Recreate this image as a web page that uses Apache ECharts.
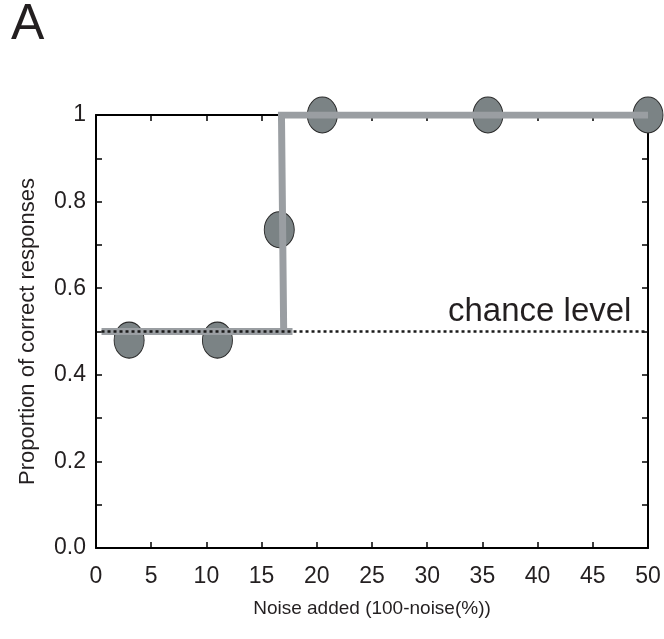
<!DOCTYPE html>
<html>
<head>
<meta charset="utf-8">
<script src="https://cdn.jsdelivr.net/npm/echarts@6/dist/echarts.min.js"></script>
<style>html,body{margin:0;padding:0;background:#fff;}#c{width:664px;height:639px;}</style>
</head>
<body>
<div id="c"></div>
<script>
// Data
var pointX = [3, 11, 16.6, 20.5, 35.5, 50];
var pointY = [0.48, 0.48, 0.735, 1.0, 1.0, 1.0];
var fitX = [0.5, 17.8, 17.0, 16.8, 50];
var fitY = [0.5, 0.5, 0.5, 1.0, 1.0];
var chanceLevel = 0.5;
var chanceRange = [0.5, 50];
var chanceLabelX = 48.5;
var xTicks = [0, 5, 10, 15, 20, 25, 30, 35, 40, 45, 50];
var yTicks = [0, 0.2, 0.4, 0.6, 0.8, 1];

var points = pointX.map(function (x, i) { return [x, pointY[i]]; });
var fit = fitX.map(function (x, i) { return [x, fitY[i]]; });

var txt = '#231f20';
var font = 'Liberation Sans, Arial, sans-serif';
var chart = echarts.init(document.getElementById('c'));
var axisLine = { show: true, onZero: false, lineStyle: { color: '#000', width: 2 } };
var tick = { show: true, inside: true, length: 6, lineStyle: { color: '#000', width: 1.5 } };

chart.setOption({
  animation: false,
  textStyle: { fontFamily: font },
  graphic: [{
    type: 'text', left: 11, top: 0,
    style: { text: 'A', font: '50px ' + font, fill: txt }
  }],
  grid: { left: 96, right: 16, top: 115, bottom: 91 },
  xAxis: [{
    type: 'value', min: 0, max: 50, interval: 5, position: 'bottom',
    axisLine: axisLine, axisTick: tick, splitLine: { show: false },
    axisLabel: { color: txt, fontSize: 23, margin: 17, fontFamily: font },
    name: 'Noise added (100-noise(%))', nameLocation: 'middle', nameGap: 51,
    nameTextStyle: { color: txt, fontSize: 19, fontFamily: font }
  }, {
    type: 'value', min: 0, max: 50, interval: 5, position: 'top',
    axisLine: axisLine, axisTick: tick, splitLine: { show: false },
    axisLabel: { show: false }
  }],
  yAxis: [{
    type: 'value', min: 0, max: 1, interval: 0.1, position: 'left',
    axisLine: axisLine, axisTick: tick, splitLine: { show: false },
    axisLabel: {
      color: txt, fontSize: 23, margin: 10, fontFamily: font,
      formatter: function (v) {
        var k = Math.round(v * 10);
        if (k % 2 === 1) return '';
        return k === 10 ? '1' : (k / 10).toFixed(1);
      }
    },
    name: 'Proportion of correct responses', nameLocation: 'middle', nameGap: 57,
    nameTextStyle: { color: txt, fontSize: 22, fontFamily: font }
  }, {
    type: 'value', min: 0, max: 1, interval: 0.1, position: 'right',
    axisLine: axisLine, axisTick: tick, splitLine: { show: false },
    axisLabel: { show: false }
  }],
  series: [{
    type: 'scatter', data: points, symbol: 'circle', symbolSize: [30, 36], z: 2,
    itemStyle: { color: '#7b8385', borderColor: '#2a2a2a', borderWidth: 1, opacity: 1 }
  }, {
    type: 'line', data: fit, symbol: 'none', z: 3,
    lineStyle: { color: '#9a9ea2', width: 7, join: 'miter' }
  }, {
    type: 'line', data: [[chanceRange[0], chanceLevel], [chanceRange[1], chanceLevel]],
    symbol: 'none', z: 4,
    lineStyle: { color: '#1a1a1a', width: 2.5, type: [3, 3] }
  }, {
    type: 'scatter', data: [[chanceLabelX, chanceLevel]], symbolSize: 0, z: 5,
    silent: true, itemStyle: { opacity: 1 },
    label: {
      show: true, formatter: 'chance level', position: [0, -3],
      align: 'right', verticalAlign: 'bottom',
      color: txt, fontSize: 33, fontFamily: font, opacity: 1
    }
  }]
});
</script>
</body>
</html>
